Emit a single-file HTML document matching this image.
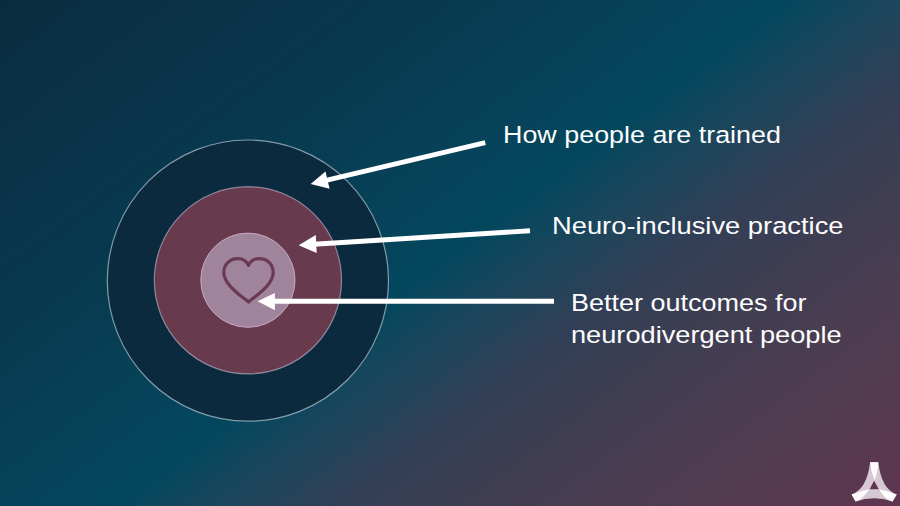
<!DOCTYPE html>
<html><head><meta charset="utf-8">
<style>
html,body{margin:0;padding:0;}
body{width:900px;height:506px;overflow:hidden;position:relative;
background:linear-gradient(143deg,#0b2c3f 0%,#0a3247 14%,#073a4f 29%,#07435a 43%,#03475d 50%,#1c465c 57%,#313f56 64%,#3d3e53 71%,#513c50 86%,#5f3550 100%);
font-family:"Liberation Sans",sans-serif;color:#fff;}
svg{position:absolute;left:0;top:0;}
.t{position:absolute;white-space:nowrap;font-size:24.5px;line-height:32px;color:#fdfdfd;transform-origin:0 0;}
</style></head><body>
<svg width="900" height="506" viewBox="0 0 900 506">
  <circle cx="247.9" cy="280.6" r="140.6" fill="#0b2a3d" stroke="rgba(205,220,230,0.62)" stroke-width="1.2"/>
  <circle cx="247.9" cy="280.3" r="93.6" fill="#683a4e" stroke="rgba(215,205,225,0.55)" stroke-width="1.2"/>
  <circle cx="247.9" cy="280.2" r="47.1" fill="#a0849c" stroke="#c8a8c0" stroke-width="1"/>
  <path d="M248.5 265.4 C246.5 260.8 243 258.6 238 258.6 C229.5 258.6 223.8 264.5 223.8 272.5 C223.8 284.5 240 295 248.5 302 C257 295 273.2 284.5 273.2 272.5 C273.2 264.5 267.5 258.6 259 258.6 C254 258.6 250.5 260.8 248.5 265.4 Z" fill="none" stroke="#6a3a52" stroke-width="3.2" stroke-linejoin="round"/>
  <g fill="#fff">
    <line x1="485.3" y1="142.7" x2="326" y2="180.3" stroke="#fff" stroke-width="4.9"/>
    <polygon points="310.6,184.0 325.5,171.5 329.6,188.8"/>
    <line x1="530" y1="230.8" x2="314" y2="244.2" stroke="#fff" stroke-width="4.9"/>
    <polygon points="298.7,245.3 315.8,235.1 316.7,252.9"/>
    <line x1="554" y1="301.3" x2="273" y2="301.3" stroke="#fff" stroke-width="4.9"/>
    <polygon points="257.6,301.3 274.9,292.9 274.9,310.2"/>
  </g>
  <g>
    <path fill-rule="evenodd" fill="#d6c9d3" d="M870.1 462.2 L878.3 462.2 Q881.4 489 896.7 494.5 L892.5 501.5 Q874.2 495 855.6 501.6 L851.6 494.4 Q867 489 870.1 462.2 Z M874.1 480.8 L869.6 489.3 L878.8 489.3 Z"/>
    <path fill="#fefcff" d="M870.1 462.2 L878.3 462.2 Q877.8 473 874.5 480.2 Q870.6 471 870.1 462.2 Z M851.6 494.4 Q860.5 490.8 869.5 489.2 Q861.3 500.5 855.6 501.6 Z M896.7 494.5 Q888 490.8 879.2 489.2 Q883.5 498.2 892.5 501.5 Z"/>
  </g>
</svg>
<div class="t" style="left:503px;top:119px;transform:scaleX(1.097)">How people are trained</div>
<div class="t" style="left:552px;top:210px;transform:scaleX(1.115)">Neuro-inclusive practice</div>
<div class="t" style="left:570.5px;top:287px;transform:scaleX(1.102)">Better outcomes for</div>
<div class="t" style="left:571px;top:318.5px;transform:scaleX(1.110)">neurodivergent people</div>
</body></html>
